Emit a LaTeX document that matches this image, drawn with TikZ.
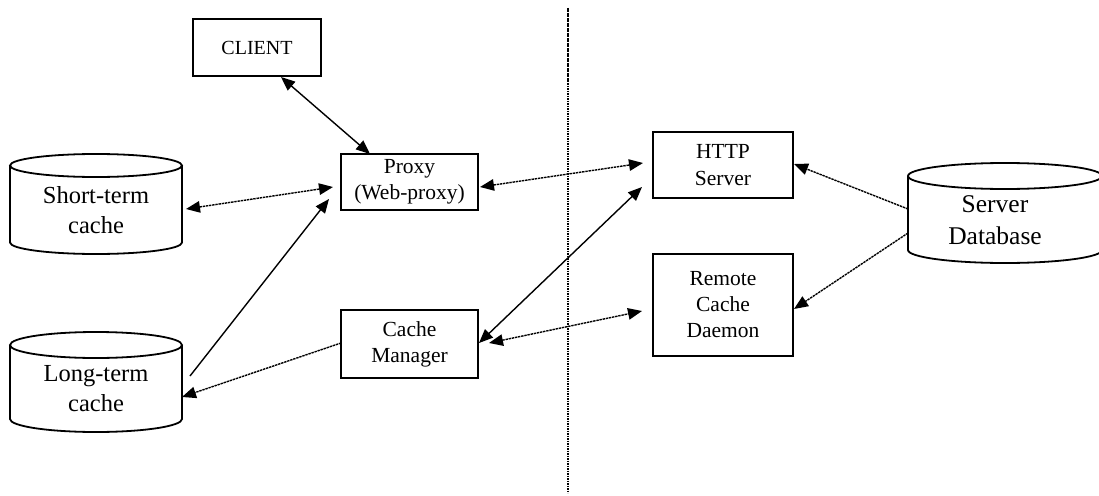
\documentclass[tikz,border=0pt]{standalone}
\usepackage{fontspec}
\setmainfont{Liberation Serif}
\usetikzlibrary{arrows.meta,calc}
\newcommand\drawcyl[2]{%
  \draw[cylline] let \p1=(#1.north west), \p2=(#1.south east), \n1={0.5*(\x2-\x1)} in
    (\x1,\y1-#2) -- (\x1,\y2+#2) arc[start angle=180,end angle=360,x radius=\n1,y radius=#2] -- (\x2,\y1-#2)
    (\x1+\n1,\y1-#2) ellipse[x radius=\n1,y radius=#2];}
\tikzset{
  box/.style={draw, line width=2pt, inner sep=0pt, outer sep=0pt, align=center,
    font=\fontsize{21.5}{26}\selectfont},
  cylbox/.style={inner sep=0pt, outer sep=0pt},
  cylline/.style={line width=1.8pt},
  cyltext/.style={inner sep=0pt, align=center, font=\fontsize{24.5}{30}\selectfont},
  conn/.style={line width=1.4pt, arrows={-Triangle[length=14pt,width=11.5pt]}},
  bothconn/.style={conn, arrows={Triangle[length=14pt,width=11.5pt]-Triangle[length=14pt,width=11.5pt]}},
  dots/.style={dash pattern=on 2.4pt off 0.8pt},
  divider/.style={line width=1.8pt, dash pattern=on 1.6pt off 0.9pt}
}
\begin{document}
\begin{tikzpicture}[x=1pt,y=1pt]
\useasboundingbox (0,0) rectangle (1099,-495);
% divider
\coordinate (dtop) at (568,-8);
\coordinate (dbot) at (568,-493);
\draw[divider] (dtop) -- (dbot);
% boxes
\node[box, minimum width=128pt, minimum height=57pt, font=\fontsize{20}{24}\selectfont] (client) at (257,-47.5) {CLIENT};
\node[box, minimum width=137pt, minimum height=56pt] (proxy) at (409.5,-182) {Proxy\\(Web-proxy)};
\node[box, minimum width=137pt, minimum height=68pt] (cm) at (409.5,-344) {Cache\\Manager};
\node[box, minimum width=140pt, minimum height=66pt, font=\fontsize{21.5}{27.5}\selectfont] (http) at (723,-165) {HTTP\\Server};
\node[box, minimum width=140pt, minimum height=102pt] (rcd) at (723,-305) {Remote\\Cache\\Daemon};
% cylinders
\node[cylbox, minimum width=172pt, minimum height=100pt] (st) at (96,-204) {};
\drawcyl{st}{11.5pt}
\node[cyltext] (sttxt) at (96,-210) {Short-term\\cache};
\node[cylbox, minimum width=172pt, minimum height=100pt] (lt) at (96,-382) {};
\drawcyl{lt}{13pt}
\node[cyltext] (lttxt) at (96,-389) {Long-term\\cache};
\node[cylbox, minimum width=194pt, minimum height=100pt] (db) at (1005,-213) {};
\drawcyl{db}{13pt}
\node[cyltext, font=\fontsize{25.5}{32}\selectfont] (dbtxt) at (995,-220.5) {Server\\Database};
% connectors
\draw[bothconn] ([shift={(24,-1)}]client.south) -- ([shift={(-39.5,0)}]proxy.north);
\draw[bothconn, dots] ([shift={(4,-5)}]st.east) -- ([shift={(-8,-5)}]proxy.west);
\draw[conn] ([shift={(8,6)}]lt.east) -- ([shift={(-12,-17)}]proxy.west);
\draw[conn, dots] ([shift={(0,1)}]cm.west) -- ([shift={(0,-15)}]lt.east);
\draw[bothconn, dots] ([shift={(2,-5)}]proxy.east) -- ([shift={(-10,2)}]http.west);
\draw[bothconn] ([shift={(1,1)}]cm.east) -- ([shift={(-11,-22)}]http.west);
\draw[bothconn, dots] ([shift={(11,1)}]cm.east) -- ([shift={(-11,-6)}]rcd.west);
\draw[conn, dots] ([shift={(0,4)}]db.west) -- ([shift={(1,1)}]http.east);
\draw[conn, dots] ([shift={(0,-20)}]db.west) -- ([shift={(1,-4)}]rcd.east);
\end{tikzpicture}
\end{document}
